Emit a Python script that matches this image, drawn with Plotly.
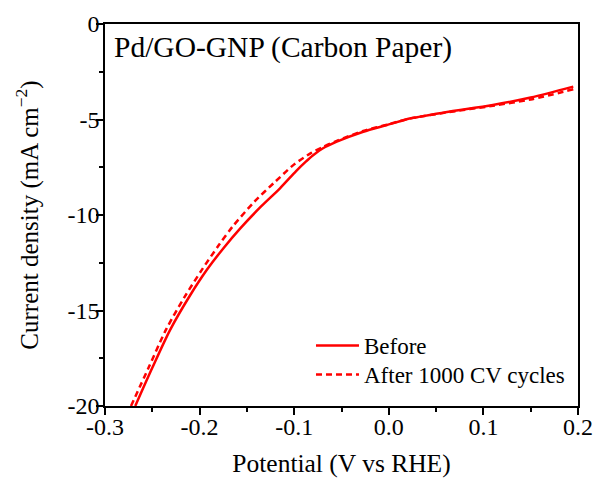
import plotly.graph_objects as go

# Potential (V vs RHE) and current density (mA cm^-2)
v_before = [-0.268, -0.25, -0.231, -0.21, -0.1925, -0.175, -0.157, -0.135, -0.115, -0.098,
            -0.088, -0.080, -0.070, -0.055, -0.027, -0.002, 0.022, 0.03, 0.06, 0.11, 0.15, 0.195]
j_before = [-20.0, -18.0, -16.0, -14.2, -12.88, -11.75, -10.7, -9.55, -8.6, -7.7,
            -7.22, -6.87, -6.52, -6.16, -5.64, -5.29, -4.95, -4.88, -4.62, -4.24, -3.85, -3.28]

v_after = [-0.2725, -0.254, -0.2355, -0.216, -0.198, -0.18, -0.165, -0.142, -0.121, -0.1,
           -0.082, -0.070, -0.055, -0.027, -0.002, 0.022, 0.03, 0.06, 0.11, 0.15, 0.195]
j_after = [-20.0, -18.0, -16.0, -14.3, -12.9, -11.6, -10.6, -9.3, -8.3, -7.35,
           -6.75, -6.45, -6.12, -5.6, -5.27, -4.95, -4.88, -4.64, -4.28, -3.95, -3.42]

x_ticks = [-0.3, -0.2, -0.1, 0.0, 0.1, 0.2]
x_tick_labels = ["-0.3", "-0.2", "-0.1", "0.0", "0.1", "0.2"]
y_ticks = [0, -5, -10, -15, -20]
y_tick_labels = ["0", "-5", "-10", "-15", "-20"]

FONT = "Liberation Serif"
RED = "#ff0000"

fig = go.Figure()
fig.add_trace(go.Scatter(x=v_before, y=j_before, mode="lines", name="Before", legend="legend",
                         line=dict(color=RED, width=2.5, shape="spline", smoothing=0.8)))
fig.add_trace(go.Scatter(x=v_after, y=j_after, mode="lines", name="After 1000 CV cycles", legend="legend2",
                         line=dict(color=RED, width=2.5, dash="6px,4px", shape="spline", smoothing=0.8)))

axis_common = dict(
    showline=True, linecolor="black", linewidth=1.5, mirror=True,
    ticks="outside", ticklen=7, tickwidth=1.5, tickcolor="black",
    showgrid=False, zeroline=False, automargin=False,
    tickfont=dict(family=FONT, size=24, color="black"),
)

fig.update_xaxes(range=[-0.3, 0.2], tickvals=x_ticks, ticktext=x_tick_labels,
                 minor=dict(dtick=0.05, ticks="outside", ticklen=4, tickwidth=1.5, tickcolor="black"),
                 ticklabelstandoff=-9,
                 title=dict(text="Potential (V vs RHE)", font=dict(family=FONT, size=25.5, color="black"), standoff=16),
                 **axis_common)
fig.update_yaxes(range=[-20, 0], tickvals=y_ticks, ticktext=y_tick_labels,
                 minor=dict(dtick=2.5, ticks="outside", ticklen=4, tickwidth=1.5, tickcolor="black"),
                 ticklabelstandoff=-8,
                 title=dict(text="Current density (mA cm<sup>−2</sup>)", font=dict(family=FONT, size=25, color="black"), standoff=22),
                 **axis_common)

fig.add_annotation(text="Pd/GO-GNP (Carbon Paper)", xref="paper", yref="paper",
                   x=0.015, y=0.988, xanchor="left", yanchor="top", showarrow=False,
                   font=dict(family=FONT, size=29.5, color="black"))

leg_common = dict(xanchor="left", yanchor="top",
                  font=dict(family=FONT, size=23, color="black"),
                  bgcolor="rgba(0,0,0,0)", itemwidth=43)

fig.update_layout(
    width=598, height=487,
    margin=dict(l=105, r=20, t=24, b=81),
    plot_bgcolor="white", paper_bgcolor="white",
    legend=dict(x=0.4355, y=0.2147, **leg_common),
    legend2=dict(x=0.4355, y=0.1387, **leg_common),
    showlegend=True,
)

fig.write_html("out.html")
